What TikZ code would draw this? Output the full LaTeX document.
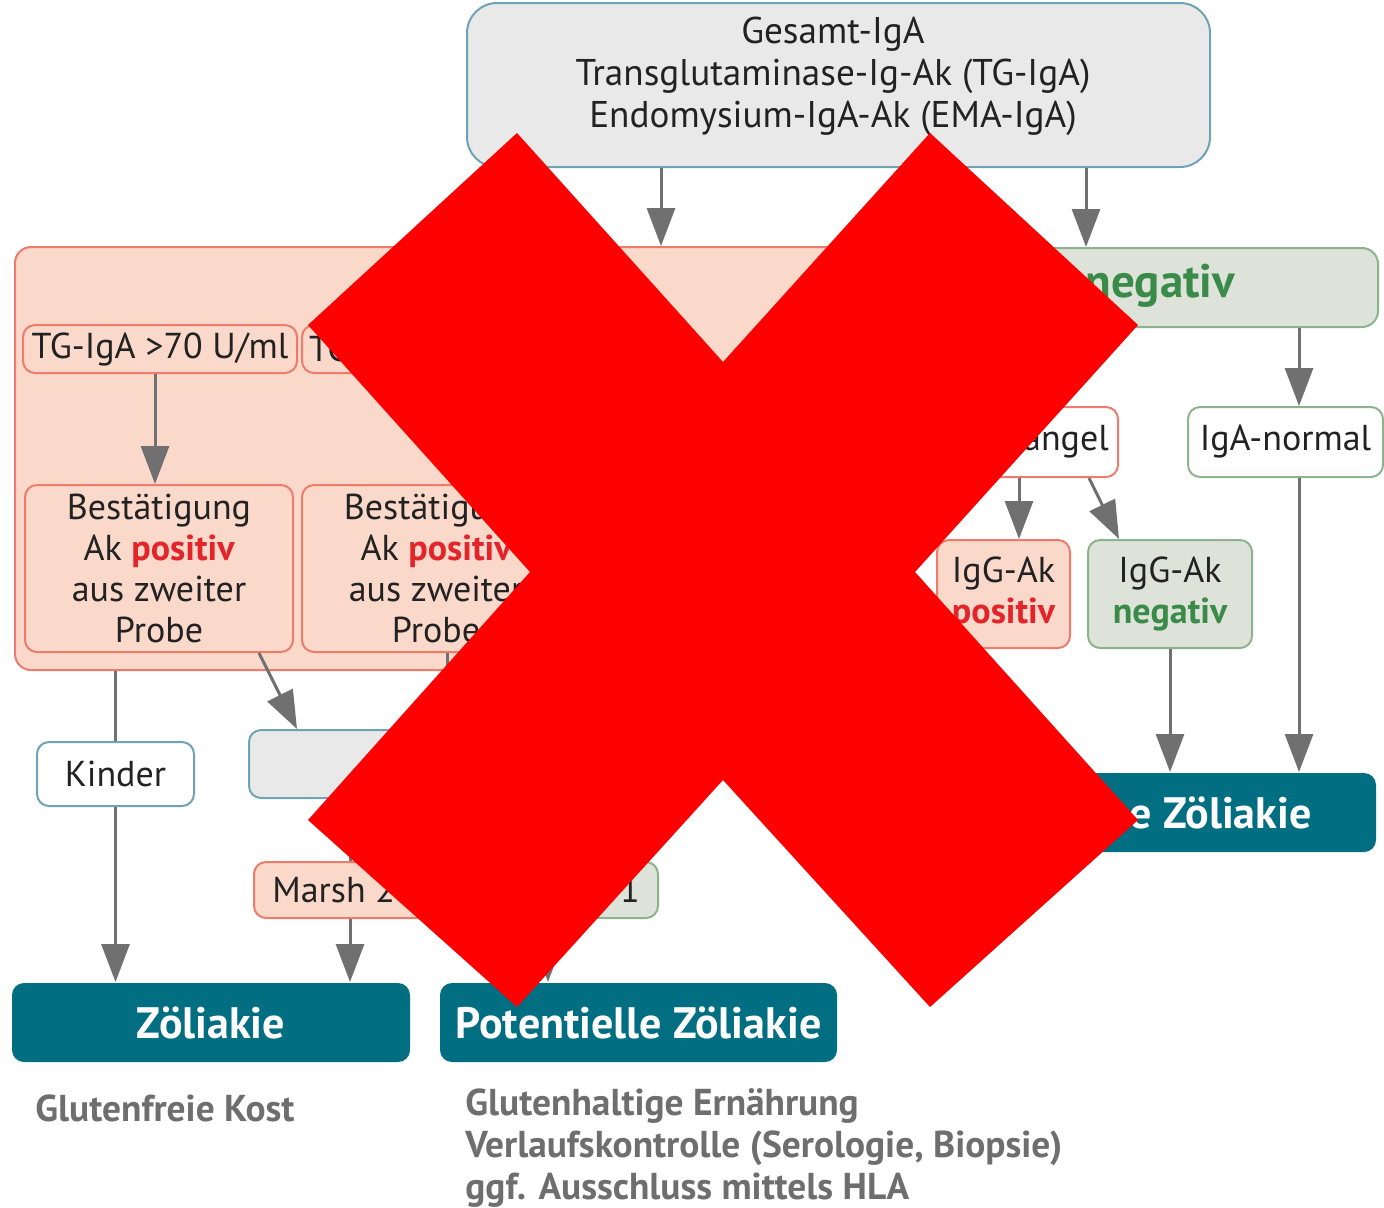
\documentclass[tikz,border=0pt]{standalone}
\usepackage{fontspec}
\setmainfont{PT Sans}
\usetikzlibrary{arrows.meta}
\definecolor{hellgrau}{HTML}{E9E9E9}
\definecolor{rahmenblau}{HTML}{6FA2B5}
\definecolor{hellrosa}{HTML}{FAD9CB}
\definecolor{rahmenrot}{HTML}{EE7B6B}
\definecolor{hellgruen}{HTML}{DDE3D9}
\definecolor{rahmengruen}{HTML}{8DB38E}
\definecolor{petrol}{HTML}{026E81}
\definecolor{rotschrift}{HTML}{E3242B}
\definecolor{gruenschrift}{HTML}{3A8A4A}
\definecolor{pfeilgrau}{HTML}{707070}
\definecolor{hinweisgrau}{HTML}{6E6E6E}
\definecolor{textdunkel}{HTML}{222222}
\definecolor{xrot}{HTML}{FF0000}
\newcommand{\pos}{\textcolor{rotschrift}{\bfseries positiv}}
\newcommand{\nega}{\textcolor{gruenschrift}{\bfseries negativ}}
\begin{document}
\begin{tikzpicture}[x=0.5pt, y=-0.5pt,
    kasten/.style={rounded corners=6pt, line width=1pt, align=center, inner sep=0pt,
        text=textdunkel, font=\fontsize{18}{20.5}\selectfont},
    grau/.style={kasten, draw=rahmenblau, fill=hellgrau},
    weissblau/.style={kasten, draw=rahmenblau, fill=white},
    rosa/.style={kasten, draw=rahmenrot, fill=hellrosa},
    weissrot/.style={kasten, draw=rahmenrot, fill=white},
    gruen/.style={kasten, draw=rahmengruen, fill=hellgruen},
    weissgruen/.style={kasten, draw=rahmengruen, fill=white},
    kopf/.style={kasten, font=\fontsize{23.5}{26}\selectfont},
    ergebnis/.style={kasten, draw=none, fill=petrol, text=white,
        font=\fontsize{22}{25}\selectfont\bfseries},
    hinweis/.style={inner sep=0pt, align=left, text=hinweisgrau,
        font=\fontsize{18.7}{21}\selectfont\bfseries},
    pfeil/.style={draw=pfeilgrau, line width=1.5pt,
        -{Triangle[length=19pt, width=14pt]}},
    linie/.style={draw=pfeilgrau, line width=1.5pt}]
    \useasboundingbox (0,0) rectangle (1384,1207);
    % Screening
    \node[grau, minimum width=371.5pt, minimum height=82pt, rounded corners=15pt] (gesamt) at (838.5,85) {};
    \node[kasten, font=\fontsize{18.6}{21}\selectfont] (gesamttext) at (833,76)
        {Gesamt-IgA\\Transglutaminase-Ig-Ak (TG-IgA)\\Endomysium-IgA-Ak (EMA-IgA)};
    % Ak positiv
    \node[rosa, minimum width=427.5pt, minimum height=211.5pt, rounded corners=8pt] (positiv) at (442.5,458.5) {};
    \node[kopf] (poskopf) at (472,287) {Ak \pos};
    \node[rosa, minimum width=137pt, minimum height=24pt] (tgA) at (160,349) {TG-IgA >70 U/ml};
    \node[rosa, minimum width=137pt, minimum height=24pt, text width=130pt, align=left] (tgB) at (439,349) {TG};
    \node[rosa, minimum width=134pt, minimum height=83.5pt] (best1) at (159,568.5)
        {Bestätigung\\Ak \pos\\aus zweiter\\Probe};
    \node[rosa, minimum width=134pt, minimum height=83.5pt] (best2) at (436,568.5)
        {Bestätigung\\Ak \pos\\aus zweiter\\Probe};
    % Ak negativ
    \node[gruen, minimum width=246.5pt, minimum height=39.5pt, rounded corners=8pt] (negativ) at (1131.5,287.5) {};
    \node[kopf] (negkopf) at (1129,286) {Ak \nega};
    \node[weissrot, minimum width=97.5pt, minimum height=35pt] (mangel) at (1020.5,442) {IgA-Mangel};
    \node[weissgruen, minimum width=97.5pt, minimum height=35pt] (normal) at (1285.5,442) {IgA-normal};
    \node[rosa, minimum width=66.5pt, minimum height=54pt] (iggpos) at (1003.5,594) {IgG-Ak\\\pos};
    \node[gruen, minimum width=82pt, minimum height=54pt] (iggneg) at (1170,594) {IgG-Ak\\\nega};
    % Kinder / Biopsie
    \node[weissblau, minimum width=78.5pt, minimum height=32pt] (kinder) at (115.5,774) {Kinder};
    \node[grau, minimum width=195.5pt, minimum height=34pt] (biopsie) at (444.5,764) {};
    \node[rosa, minimum width=96pt, minimum height=28pt] (marshA) at (350,890) {Marsh 2-3};
    \node[gruen, minimum width=96pt, minimum height=28pt] (marshB) at (562,890) {Marsh 0-1};
    % Ergebnis
    \node[ergebnis, minimum width=199pt, minimum height=39.5pt] (zoel) at (211,1022.5) {Zöliakie};
    \node[ergebnis, minimum width=198.5pt, minimum height=39.5pt] (pot) at (638.5,1022.5) {Potentielle Zöliakie};
    \node[ergebnis, minimum width=197pt, minimum height=39.5pt] (keine) at (1179,812.5) {Keine Zöliakie};
    \node[hinweis, anchor=west] (kost) at (35,1108) {Glutenfreie Kost};
    \node[hinweis, anchor=west] (verlauf) at (465,1148)
        {Glutenhaltige Ernährung\\Verlaufskontrolle (Serologie, Biopsie)\\ggf. Ausschluss mittels HLA};
    % Pfeile
    \coordinate (p1) at ([xshift=-88.75pt]gesamt.south);
    \coordinate (p2) at ([xshift=123.75pt]gesamt.south);
    \coordinate (p3) at ([xshift=5.5pt]best2.south);
    \coordinate (p4) at ([xshift=-7pt]marshB.south);
    \coordinate (p5) at ([xshift=6.75pt]normal.north);
    \coordinate (p6) at ([xshift=6.75pt]normal.south);
    \coordinate (p7) at ([xshift=7.75pt]iggpos.north);
    \draw[pfeil] (p1) -- (p1 |- positiv.north);
    \draw[pfeil] (p2) -- (p2 |- negativ.north);
    \draw[pfeil] ([xshift=-2.5pt]tgA.south) -- ([xshift=-2.5pt]tgA.south |- best1.north);
    \draw[linie] (kinder.north |- positiv.south) -- (kinder.north);
    \draw[pfeil] (kinder.south) -- (kinder.south |- zoel.north);
    \draw[pfeil] ([xshift=-17.5pt]best1.south east) -- ([xshift=24.5pt]biopsie.north west);
    \draw[pfeil] (p3) -- (p3 |- biopsie.north);
    \draw[linie] (biopsie.south -| marshA.north) -- (marshA.north);
    \draw[pfeil] (marshA.south) -- (marshA.south |- zoel.north);
    \draw[pfeil] (p4) -- (p4 |- pot.north);
    \draw[pfeil] (p5 |- negativ.south) -- (p5);
    \draw[pfeil] (mangel.north |- negativ.south) -- (mangel.north);
    \draw[pfeil] (p7 |- mangel.south) -- (p7);
    \draw[pfeil] ([xshift=-15pt]mangel.south east) -- ([xshift=16pt]iggneg.north west);
    \draw[pfeil] (iggneg.south) -- (iggneg.south |- keine.north);
    \draw[pfeil] (p6) -- (p6 |- keine.north);
    % Kreuz
    \fill[xrot] (517,133) -- (723,362) -- (930,133) -- (1138,325) -- (915,572) -- (1138,820)
        -- (930,1007) -- (723,780) -- (517,1007) -- (308,820) -- (530,572) -- (308,325) -- cycle;
\end{tikzpicture}
\end{document}
